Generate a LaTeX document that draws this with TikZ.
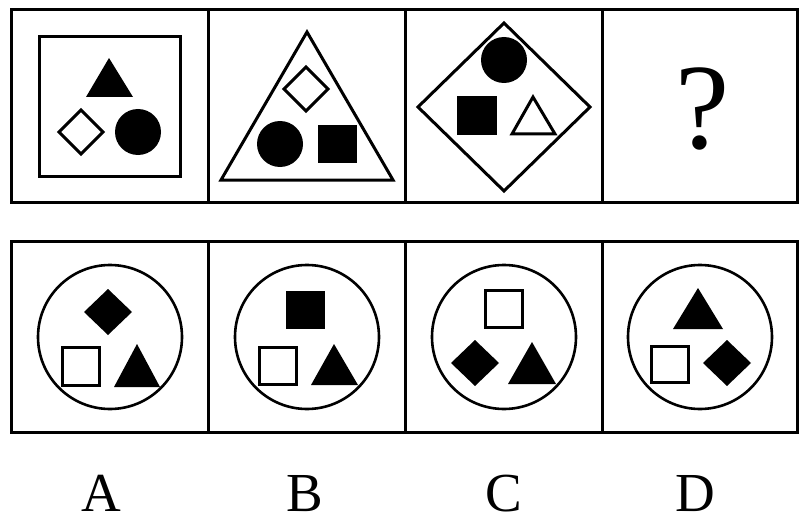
\documentclass[tikz,border=0pt]{standalone}
\usepackage{fontspec}
\newfontfamily\tms{Liberation Serif}
\begin{document}
\begin{tikzpicture}[x=1pt,y=-1pt,
  frame/.style={line width=3pt},
  outl/.style={line width=3pt, line join=miter},
  thin/.style={line width=2.6pt},
  lab/.style={anchor=base, inner sep=0pt, font=\tms\fontsize{55}{57}\selectfont}]
\useasboundingbox[fill=white] (0,0) rectangle (807,519);
% frames
\draw[frame] (11,10) rectangle (797,202);
\draw[frame] (208,10) -- (208,202) (405,10) -- (405,202) (602,10) -- (602,202);
\draw[frame] (11,241) rectangle (797,432);
\draw[frame] (208,241) -- (208,432) (405,241) -- (405,432) (602,241) -- (602,432);
% cell 1
\draw[outl] (39,37) rectangle (180,176);
\fill (109,58) -- (133,97) -- (86,97) -- cycle;
\draw[outl] (81,110) -- (103,132) -- (81,154) -- (59,132) -- cycle;
\fill (138,132) circle (23);
% cell 2
\draw[outl] (307,32) -- (393,180) -- (221,180) -- cycle;
\draw[outl] (306,67) -- (328,89) -- (306,111) -- (284,89) -- cycle;
\fill (280,144) circle (23);
\fill (318,125) rectangle (357,163);
% cell 3
\draw[outl] (504,23) -- (590,107) -- (504,191) -- (418,107) -- cycle;
\fill (504,60) circle (23);
\fill (457,96) rectangle (497,135);
\draw[outl] (533,97) -- (555,134) -- (512,134) -- cycle;
% cell 4
\node[anchor=base, inner sep=0pt, font=\tms\fontsize{122}{124}\selectfont] (q) at (703,148) {?};
% option A
\draw[thin] (110,337) circle (72);
\fill (108,289) -- (132,312) -- (108,335) -- (84,312) -- cycle;
\draw[outl] (62,347) rectangle (99,385);
\fill (137,344) -- (160,387) -- (114,387) -- cycle;
% option B
\draw[thin] (307,337) circle (72);
\fill (286,291) rectangle (325,329);
\draw[outl] (259,347) rectangle (296,384);
\fill (334,344) -- (358,385) -- (311,385) -- cycle;
% option C
\draw[thin] (504,337) circle (72);
\draw[outl] (485,290) rectangle (522,327);
\fill (475,340) -- (499,363) -- (475,386) -- (451,363) -- cycle;
\fill (532,342) -- (556,384) -- (508,384) -- cycle;
% option D
\draw[thin] (700,337) circle (72);
\fill (698,288) -- (723,329) -- (673,329) -- cycle;
\draw[outl] (651,346) rectangle (688,382);
\fill (727,340) -- (751,363) -- (727,386) -- (703,363) -- cycle;
% labels
\node[lab] (la) at (101,511) {A};
\node[lab] (lb) at (305,511) {B};
\node[lab] (lc) at (504,511) {C};
\node[lab] (ld) at (695,511) {D};
\end{tikzpicture}
\end{document}
